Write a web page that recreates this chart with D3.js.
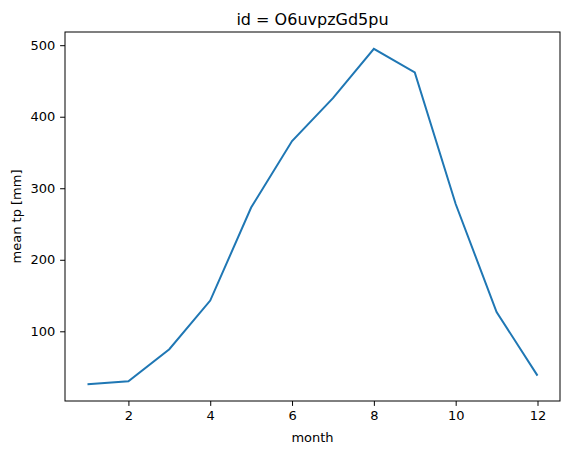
<!DOCTYPE html>
<html><head><meta charset="utf-8">
<script src="https://cdn.jsdelivr.net/npm/d3@7"></script>
<style>body{margin:0;background:#fff}text{font-family:"DejaVu Sans",sans-serif}</style>
</head><body>
<svg id="c" width="571" height="455"></svg>
<script>
var months = [1,2,3,4,5,6,7,8,9,10,11,12];
var tp = [26,30,75,143,273,366,426,495,462,278,127,38];
var xTicks = [2,4,6,8,10,12];
var yTicks = [100,200,300,400,500];

var svg = d3.select("#c");
var L = 65, R = 560, T = 32, B = 401;
var x = d3.scaleLinear().domain([0.45, 12.55]).range([L, R]);
var lo = d3.min(tp), hi = d3.max(tp), pad = (hi - lo) * 0.05;
var y = d3.scaleLinear().domain([lo - pad, hi + pad]).range([B, T]);

var gx = svg.append("g").attr("transform", "translate(0," + B + ")")
  .call(d3.axisBottom(x).tickValues(xTicks).tickSize(4.9).tickPadding(4.9));
var gy = svg.append("g").attr("transform", "translate(" + L + ",0)")
  .call(d3.axisLeft(y).tickValues(yTicks).tickSize(4.9).tickPadding(4.9));
[gx, gy].forEach(function (g) {
  g.select(".domain").remove();
  g.selectAll("text").attr("font-size", 13).attr("fill", "#000").style("font-family", "DejaVu Sans");
  g.selectAll("line").attr("stroke", "#000");
});

svg.append("path").datum(months)
  .attr("fill", "none").attr("stroke", "#1f77b4").attr("stroke-width", 2)
  .attr("d", d3.line().x(function (d) { return x(d); }).y(function (d, i) { return y(tp[i]); }));

svg.append("rect").attr("x", L).attr("y", T).attr("width", R - L).attr("height", B - T)
  .attr("fill", "none").attr("stroke", "#000").attr("stroke-width", 1);

svg.append("text").attr("x", (L + R) / 2).attr("y", 442).attr("text-anchor", "middle")
  .attr("font-size", 13).text("month");
svg.append("text").attr("transform", "translate(21," + (T + B) / 2 + ") rotate(-90)")
  .attr("text-anchor", "middle").attr("font-size", 13).text("mean tp [mm]");
svg.append("text").attr("x", (L + R) / 2).attr("y", 25).attr("text-anchor", "middle")
  .attr("font-size", 16).text("id = O6uvpzGd5pu");
</script>
</body></html>
